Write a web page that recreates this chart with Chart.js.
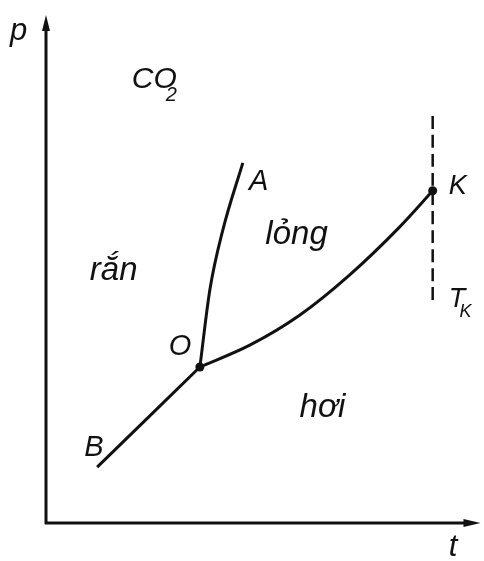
<!DOCTYPE html>
<html>
<head>
<meta charset="utf-8">
<script src="https://cdn.jsdelivr.net/npm/chart.js@4"></script>
<style>
  html, body { margin: 0; padding: 0; background: #fff; }
  canvas { display: block; }
</style>
</head>
<body>
<canvas id="phase" width="484" height="561"></canvas>
<script>
// CO2 phase diagram, t on x, p on y (arbitrary units 0..100)
const sublimation = [[11.8, 11.0], [35.5, 30.7]];             // B -> O
const melting = [[35.5, 30.7], [37.8, 45.9], [40.8, 57.7],
                 [45.4, 70.9]];                                // O -> A
const boiling = [[35.5, 30.7], [47.0, 35.0], [58.5, 40.9], [70.0, 48.8],
                 [81.6, 58.3], [89.2, 65.4]];                  // O -> K
const criticalT = [[89.2, 43.9], [89.2, 80.9]];               // T_K
const specialPoints = [[35.5, 30.7], [89.2, 65.4]];           // O, K

// text labels: [text, t, p, fontSize]
const labels = [
  ['p', -8.3, 95.1, 31],
  ['CO', 19.8, 85.6, 30],
  ['2', 27.6, 83.1, 20],
  ['A', 46.8, 65.6, 29],
  ['lỏng', 50.6, 54.9, 33],
  ['rắn', 10.1, 47.8, 33],
  ['K', 92.9, 64.8, 27],
  ['T', 92.9, 42.5, 27],
  ['K', 95.4, 40.6, 18],
  ['O', 28.3, 33.1, 29],
  ['hơi', 58.5, 20.9, 33],
  ['B', 8.8, 13.2, 29],
  ['t', 92.9, -6.5, 31]
];

const toXY = pts => pts.map(([t, p]) => ({ x: t, y: p }));

const line = (pts, extra) => Object.assign({
  data: toXY(pts),
  showLine: true,
  borderColor: '#111',
  borderWidth: 3,
  pointRadius: 0,
  fill: false,
  cubicInterpolationMode: 'monotone',
  clip: false
}, extra);

const axesAndText = {
  id: 'axesAndText',
  afterDatasetsDraw(chart) {
    const { ctx, chartArea: a, scales: { x, y } } = chart;
    ctx.save();
    ctx.strokeStyle = '#111';
    ctx.fillStyle = '#111';
    ctx.lineWidth = 3;
    ctx.lineCap = 'butt';

    // p axis
    ctx.beginPath();
    ctx.moveTo(a.left, a.bottom + 1);
    ctx.lineTo(a.left, a.top + 10);
    ctx.stroke();
    ctx.beginPath();
    ctx.moveTo(a.left, a.top);
    ctx.lineTo(a.left - 4, a.top + 16);
    ctx.lineTo(a.left + 4, a.top + 16);
    ctx.closePath();
    ctx.fill();

    // t axis
    ctx.beginPath();
    ctx.moveTo(a.left - 1, a.bottom);
    ctx.lineTo(a.right - 10, a.bottom);
    ctx.stroke();
    ctx.beginPath();
    ctx.moveTo(a.right + 1, a.bottom);
    ctx.lineTo(a.right - 16, a.bottom - 4);
    ctx.lineTo(a.right - 16, a.bottom + 4);
    ctx.closePath();
    ctx.fill();

    ctx.textAlign = 'left';
    ctx.textBaseline = 'alphabetic';
    labels.forEach(([txt, t, p, size]) => {
      ctx.font = 'italic ' + size + 'px "Liberation Sans", Arial, sans-serif';
      ctx.fillText(txt, x.getPixelForValue(t), y.getPixelForValue(p));
    });
    ctx.restore();
  }
};

new Chart(document.getElementById('phase'), {
  type: 'scatter',
  data: {
    datasets: [
      line(sublimation),
      line(melting),
      line(boiling),
      line(criticalT, { borderWidth: 2.5, borderDash: [13, 6] }),
      {
        data: toXY(specialPoints),
        pointRadius: 4.5,
        pointBackgroundColor: '#111',
        pointBorderWidth: 0,
        showLine: false,
        clip: false
      }
    ]
  },
  options: {
    responsive: false,
    animation: false,
    events: [],
    layout: { padding: { left: 46, right: 4, top: 15, bottom: 38 } },
    scales: {
      x: { type: 'linear', min: 0, max: 100, display: false },
      y: { type: 'linear', min: 0, max: 100, display: false }
    },
    plugins: { legend: { display: false }, tooltip: { enabled: false } }
  },
  plugins: [axesAndText]
});
</script>
</body>
</html>
